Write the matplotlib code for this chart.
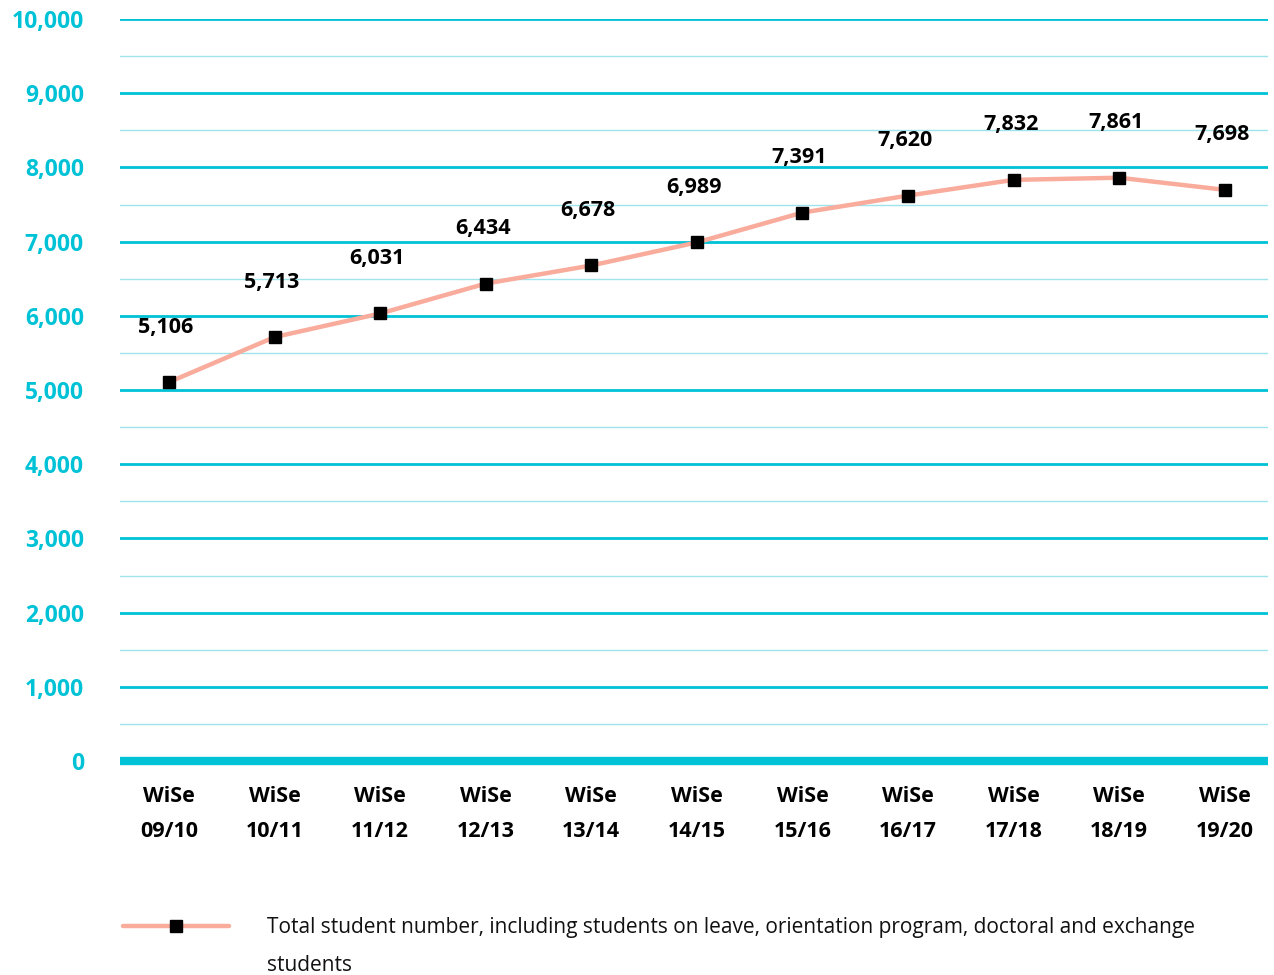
import matplotlib
matplotlib.use("Agg")
import matplotlib.pyplot as plt
from matplotlib.lines import Line2D

categories = ["WiSe\n09/10", "WiSe\n10/11", "WiSe\n11/12", "WiSe\n12/13", "WiSe\n13/14",
              "WiSe\n14/15", "WiSe\n15/16", "WiSe\n16/17", "WiSe\n17/18", "WiSe\n18/19",
              "WiSe\n19/20"]
values = [5106, 5713, 6031, 6434, 6678, 6989, 7391, 7620, 7832, 7861, 7698]
y_ticks = [0, 1000, 2000, 3000, 4000, 5000, 6000, 7000, 8000, 9000, 10000]
legend_lines = ["Total student number, including students on leave, orientation program, doctoral and exchange",
                "students"]

CYAN = "#00c2d6"
LIGHT = "#9fe3ec"
SALMON = "#f9ab9c"

plt.rcParams['font.family'] = ['Open Sans', 'DejaVu Sans']

fig = plt.figure(figsize=(12.74, 9.75), dpi=100)
ax = fig.add_axes([120/1274, 1-761/975, 1148/1274, (761-19)/975])

x = list(range(len(values)))
ax.set_xlim(-0.464, 10.41)
ax.set_ylim(0, 10000)

for v in range(500, 10000, 1000):
    ax.axhline(v, color=LIGHT, lw=1.0, zorder=1)
for v in y_ticks[1:]:
    ax.axhline(v, color=CYAN, lw=2.0, zorder=1)
ax.axhline(0, color=CYAN, lw=6, zorder=1, clip_on=False, solid_capstyle='butt')

ax.plot(x, values, color=SALMON, lw=3.2, marker='s', markersize=8,
        markerfacecolor='black', markeredgecolor='black', zorder=3, solid_capstyle='round')

for xi, v in zip(x, values):
    ax.annotate(f"{v:,}", (xi, v), xytext=(-3, 55), textcoords='offset pixels',
                ha='center', va='center', fontsize=15.5, fontweight='bold', color='black')

for s in ax.spines.values():
    s.set_visible(False)
ax.set_yticks(y_ticks)
ax.set_yticklabels([f"{t:,}" for t in y_ticks])
ax.tick_params(axis='y', length=0, pad=26, labelsize=16.5, labelcolor=CYAN)
for lab in ax.get_yticklabels():
    lab.set_fontweight('bold')
ax.set_xticks(x)
ax.set_xticklabels(categories, fontsize=15.5, fontweight='bold', linespacing=1.9)
ax.tick_params(axis='x', length=0, pad=18)

# legend
fig.add_artist(Line2D([123/1274, 229/1274], [1-926/975, 1-926/975], color=SALMON, lw=3.2,
                      solid_capstyle='round', transform=fig.transFigure))
fig.add_artist(Line2D([176/1274], [1-926/975], marker='s', markersize=8, color='black',
                      transform=fig.transFigure))
for line, yb in zip(legend_lines, [933, 971]):
    fig.text(267/1274, 1-yb/975, line, fontsize=15, color='#111111', ha='left', va='baseline',
             transform=fig.transFigure)

fig.savefig("out.png", dpi=100, facecolor='white')
